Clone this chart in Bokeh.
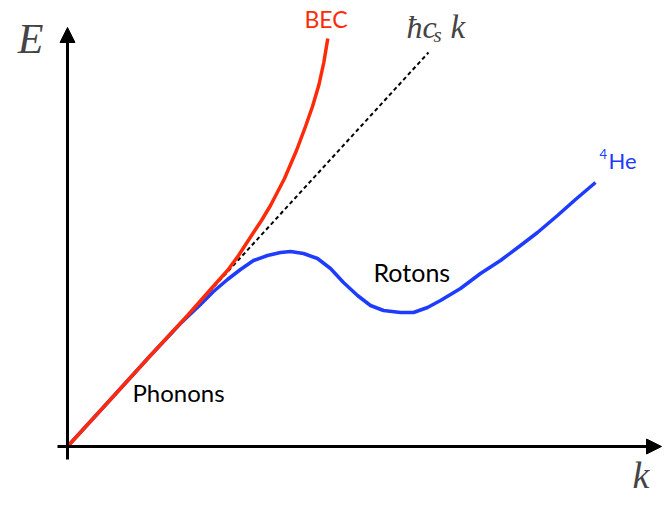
from bokeh.plotting import figure
from bokeh.models import Arrow, NormalHead, Label, Range1d
from bokeh.embed import file_html
from bokeh.resources import INLINE

# 4He dispersion (schematic)
k_he = [0, 43, 83, 113, 133, 146, 160, 173, 186, 200, 213, 223, 236, 250, 263,
        276, 290, 303, 316, 333, 346, 360, 373, 393, 413, 433, 453, 470, 490, 508, 528]
E_he = [0, 47, 91, 123, 142, 155, 167, 177, 186, 191, 194, 195, 193, 188, 178,
        164, 151, 141, 136, 134, 134, 139, 146, 158, 173, 186, 201, 214, 231, 247, 264]

# BEC (Bogoliubov) dispersion
k_bec = [0, 43, 83, 120, 143, 160, 171, 186, 194, 203, 217, 229, 238, 245, 251.5, 256.3, 260.3]
E_bec = [0, 47, 91, 131, 157, 176, 191, 214, 226, 241, 268, 296, 320, 340, 362, 384, 408]

# linear phonon line  hbar c_s k
k_lin = [0, 361]
E_lin = [0, 394]

# axis extents
k_axis = (-10, 594)
E_axis = (-13, 419)

p = figure(width=662, height=497, output_backend="svg", toolbar_location=None,
           x_range=Range1d(-67, 595), y_range=Range1d(-51, 446),
           x_axis_location=None, y_axis_location=None, min_border=0)
p.grid.visible = False
p.outline_line_color = None
p.background_fill_color = "white"
p.border_fill_color = "white"

RED = "#ff2a0a"
BLUE = "#1e3cff"

# axes with arrows
p.add_layout(Arrow(end=NormalHead(size=15, fill_color="black", line_color="black", line_width=1),
                   x_start=k_axis[0], y_start=0, x_end=k_axis[1], y_end=0,
                   line_width=3, line_color="black"))
p.add_layout(Arrow(end=NormalHead(size=15, fill_color="black", line_color="black", line_width=1),
                   x_start=0, y_start=E_axis[0], x_end=0, y_end=E_axis[1],
                   line_width=3, line_color="black"))

p.line(k_lin, E_lin, line_color="black", line_width=2, line_dash="4 3")
p.line(k_he, E_he, line_color=BLUE, line_width=3.5, line_join="round")
p.line(k_bec, E_bec, line_color=RED, line_width=3.5, line_join="round")

serif = "Liberation Serif"
sans = "Lato"

p.add_layout(Label(x=-37, y=408, text="E", text_font=serif, text_font_style="italic",
                   text_font_size="42px", text_align="center", text_baseline="alphabetic"))
p.add_layout(Label(x=565, y=-28, text="k", text_font=serif, text_font_style="italic",
                   text_font_size="38px", text_align="left", text_baseline="alphabetic"))

p.add_layout(Label(x=339, y=420, text="ħc", text_font=serif, text_font_style="italic",
                   text_font_size="32px", text_align="left", text_baseline="alphabetic"))
p.add_layout(Label(x=366, y=412, text="s", text_font=serif, text_font_style="italic",
                   text_font_size="21px", text_align="left", text_baseline="alphabetic"))
p.add_layout(Label(x=383, y=420, text="k", text_font=serif, text_font_style="italic",
                   text_font_size="33px", text_align="left", text_baseline="alphabetic"))

p.add_layout(Label(x=237, y=428, text="BEC", text_font=sans, text_color=RED,
                   text_font_size="23px", text_align="left", text_baseline="alphabetic"))
p.add_layout(Label(x=65, y=54, text="Phonons", text_font=sans, text_color="black",
                   text_font_size="24px", text_align="left", text_baseline="alphabetic"))
p.add_layout(Label(x=306, y=175, text="Rotons", text_font=sans, text_color="black",
                   text_font_size="25px", text_align="left", text_baseline="alphabetic"))
p.add_layout(Label(x=532, y=293, text="4", text_font=sans, text_color=BLUE,
                   text_font_size="13px", text_align="left", text_baseline="alphabetic"))
p.add_layout(Label(x=541, y=286, text="He", text_font=sans, text_color=BLUE,
                   text_font_size="22px", text_align="left", text_baseline="alphabetic"))

open("out.html", "w").write(file_html(p, INLINE))
